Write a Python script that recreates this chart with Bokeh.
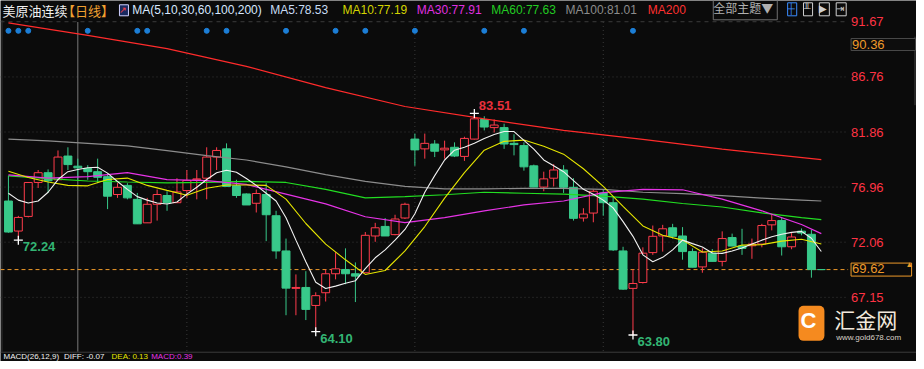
from bokeh.plotting import figure
from bokeh.models import Range1d, Label
from bokeh.embed import file_html
from bokeh.resources import INLINE

# ---------------- data ----------------
open_ = [75.72,73.05,74.35,77.37,78.24,77.61,79.72,78.82,78.61,78.33,
         77.89,76.30,77.11,75.87,73.78,75.43,76.21,75.57,76.65,77.61,
         77.75,79.63,80.36,77.08,76.35,75.52,76.30,74.41,71.28,67.95,
         68.03,66.43,67.56,69.25,69.63,69.25,69.34,72.61,73.46,72.73,
         74.21,81.23,80.36,80.79,80.27,80.50,79.69,81.23,82.97,82.25,
         82.25,80.85,80.65,78.85,76.96,77.75,78.48,76.94,74.21,74.65,
         76.44,75.57,71.28,67.95,68.47,71.13,72.61,73.34,72.61,71.22,
         69.86,71.08,70.35,72.47,71.71,71.74,71.89,73.60,73.98,71.65,
         73.04,72.76,69.62]
high = [77.98,74.40,77.40,78.48,78.53,80.22,80.50,79.49,78.91,79.49,
        78.18,77.31,77.31,76.44,76.00,76.74,76.59,77.75,78.48,78.48,
        80.50,80.50,80.85,77.61,76.40,76.74,77.31,74.85,72.38,69.19,
        69.48,67.60,69.63,71.17,71.51,70.26,72.96,73.78,74.21,74.50,
        75.57,81.72,81.72,81.14,81.09,80.94,81.44,83.51,83.26,82.97,
        82.60,81.66,80.94,78.96,78.33,79.00,78.91,77.75,75.08,76.74,
        76.74,76.15,71.65,69.63,71.60,73.54,73.60,73.69,73.40,71.51,
        71.51,71.45,73.02,72.82,73.25,72.38,73.69,74.56,74.26,72.87,
        73.28,73.17,69.62]
low = [72.90,72.24,74.26,76.88,76.44,77.61,78.48,77.61,77.61,77.31,
       75.00,76.00,75.87,73.69,73.78,73.98,74.85,75.57,76.00,75.87,
       75.87,78.48,77.02,76.00,75.37,74.70,72.15,70.58,65.56,65.56,
       65.13,64.10,66.78,68.75,68.32,66.73,69.34,72.09,72.61,72.67,
       74.12,78.85,79.49,79.63,79.49,79.63,79.29,81.20,82.00,81.81,
       80.36,79.78,78.42,76.96,76.59,77.02,76.44,73.98,73.89,73.83,
       74.41,71.28,67.82,63.80,68.38,70.93,71.22,72.38,70.50,69.83,
       69.34,70.35,69.91,71.71,70.93,70.58,71.60,73.11,70.87,71.43,
       72.67,68.90,69.62]
close = [72.96,74.26,77.37,78.24,77.52,79.63,78.96,78.67,78.33,77.83,
         76.15,76.94,76.00,73.69,75.43,76.30,75.57,76.53,77.55,77.69,
         79.63,80.22,77.02,76.21,75.37,76.39,74.50,71.28,67.97,68.03,
         66.08,67.30,69.25,69.69,69.25,69.04,72.67,73.34,72.61,74.12,
         75.43,80.27,80.85,80.15,80.42,79.72,81.29,83.03,82.30,82.48,
         80.79,80.74,78.76,76.96,77.69,78.48,76.94,74.18,74.56,76.59,
         75.57,71.37,67.88,68.38,71.08,72.58,73.25,72.58,71.22,69.83,
         71.17,70.35,72.38,71.71,71.51,71.89,73.54,73.98,71.65,72.52,
         72.87,69.62,69.62]

ma5 = [76.41,75.80,75.54,75.72,76.50,77.63,78.33,78.53,78.68,78.72,
       78.20,77.46,76.76,76.11,75.80,75.54,75.46,75.63,76.33,76.94,
       77.63,78.24,78.46,78.28,77.72,77.11,76.41,75.72,74.24,72.24,
       70.32,68.49,67.93,68.15,68.41,68.62,69.71,70.67,71.37,72.24,
       73.19,74.59,76.50,77.98,79.37,80.24,80.50,80.85,81.29,81.64,
       81.90,81.90,81.11,80.33,79.37,78.85,78.33,77.54,76.76,76.33,
       75.80,75.11,73.89,72.58,70.93,70.32,70.71,71.37,72.24,71.93,
       71.63,71.10,71.06,71.28,71.54,71.89,72.24,72.54,72.76,72.93,
       73.02,72.41,71.23]
ma10_idx = list(range(0, 83, 2))
ma10 = [78.37,77.81,77.41,77.11,77.07,77.63,77.76,77.11,76.67,76.24,
        76.85,77.15,77.15,77.11,75.89,73.72,71.89,70.49,69.19,69.54,
        71.28,73.45,75.98,78.24,80.24,81.03,81.14,80.59,79.89,78.59,
        77.02,75.24,73.50,72.67,72.24,71.19,71.28,71.80,71.84,72.15,
        72.32,71.89]
slow_idx = list(range(0, 81, 4)) + [82]
ma30 = [78.04,77.76,77.89,78.24,77.63,77.54,77.20,76.33,75.46,74.32,
        73.80,74.24,74.85,75.37,75.72,76.46,76.76,76.72,75.89,74.85,
        73.63,72.82]
ma60 = [77.95,77.72,77.50,77.41,77.33,77.37,77.46,77.37,76.76,76.00,
        76.11,76.28,76.50,76.41,76.33,76.15,75.89,75.50,75.19,74.67,
        74.24,74.06]
ma100 = [81.23,81.07,80.85,80.63,80.20,79.76,79.37,78.76,78.07,77.46,
         77.02,76.80,76.80,76.85,76.85,76.76,76.50,76.37,76.20,75.98,
         75.80,75.72]
ma200_idx = [0, 8, 16, 24, 32, 40, 48, 56, 64, 72, 82]
ma200 = [91.56,90.45,89.27,87.70,85.81,84.13,83.03,82.01,81.20,80.33,79.40]

axis_ticks = [91.67, 86.76, 81.86, 76.96, 72.06, 67.15]
event_idx = [0, 1, 2, 8, 13, 14, 20, 22, 28, 33, 36, 41, 48, 52, 63]
month_idx = [18, 41, 60]
cursor_idx = 7
low_marks = [1, 31, 63]
high_marks = [47]
title_vals = ["78.53", "77.19", "77.91", "77.63", "81.01"]
hover_price = "90.36"
macd_vals = ["-0.07", "0.13", "0.39"]

# ---------------- layout helpers (reference pixels -> data) -------------
W, H = 916, 361
REF_W, REF_H = 924, 369
CX0, CDX = 8.0, 10.0
P0, PY0, PPU = 91.67, 21.7, 11.49


def X(px):
    return (px - CX0) / CDX


def Y(py):
    return P0 - (py - PY0) / PPU


BG = "#0b0b0b"
UP = "#ff3c4c"
DOWN = "#38c98a"
MA_COL = ["#f2f2f2", "#e6e600", "#e633e6", "#22dd22", "#8c8c8c", "#ff2b2b"]
AX_RED = "#ff3344"
ORANGE = "#ee9a2a"
NUM_FONT = "Liberation Sans"
CJK_FONT = "Noto Sans CJK SC"

p = figure(width=W, height=H, x_range=Range1d(X(0), X(REF_W)),
           y_range=Range1d(Y(REF_H), Y(0)), output_backend="svg",
           toolbar_location=None, x_axis_type=None, y_axis_type=None,
           min_border=0, background_fill_color=BG, border_fill_color=BG,
           outline_line_color=None)
p.grid.visible = False

n = len(close)
idx = list(range(n))

# grid lines
p.segment(x0=[X(0)] * (len(axis_ticks) - 1), x1=[X(855)] * (len(axis_ticks) - 1),
          y0=axis_ticks[1:], y1=axis_ticks[1:], line_color="#3a3a3a",
          line_dash="1 3", line_width=1)
p.segment(x0=[X(0)], x1=[X(855)], y0=axis_ticks[:1], y1=axis_ticks[:1],
          line_color="#3c3c3c", line_dash="4 4", line_width=1)
p.segment(x0=month_idx, x1=month_idx, y0=[Y(22)] * len(month_idx),
          y1=[Y(359)] * len(month_idx), line_color="#3a3a3a",
          line_dash="1 3", line_width=1)
# crosshair vertical
p.segment(x0=[cursor_idx], x1=[cursor_idx], y0=[Y(22)], y1=[Y(359)],
          line_color="#7a7a7a", line_width=1)
# frame lines
p.segment(x0=[X(0)], x1=[X(REF_W)], y0=[Y(359.5)], y1=[Y(359.5)],
          line_color="#3c3c3c", line_width=1)
p.segment(x0=[X(1.5)], x1=[X(1.5)], y0=[Y(20)], y1=[Y(359)],
          line_color="#333333", line_width=1)
p.segment(x0=[X(922.5)], x1=[X(922.5)], y0=[Y(37)], y1=[Y(107)],
          line_color="#444444", line_width=1)

# last price dashed line
p.segment(x0=[X(0)], x1=[X(855)], y0=[close[-1]], y1=[close[-1]],
          line_color=ORANGE, line_dash="4 3", line_width=1)

# candles
cols = [UP if c > o else DOWN for o, c in zip(open_, close)]
fills = [BG if c > o else DOWN for o, c in zip(open_, close)]
p.segment(x0=idx, x1=idx, y0=low, y1=high, line_color=cols, line_width=1)
p.vbar(x=idx, width=0.8, top=[max(o, c) for o, c in zip(open_, close)],
       bottom=[min(o, c) for o, c in zip(open_, close)],
       fill_color=fills, line_color=cols, line_width=1)

# moving averages
p.line(slow_idx, ma100, line_color=MA_COL[4], line_width=1.2)
p.line(slow_idx, ma60, line_color=MA_COL[3], line_width=1.2)
p.line(slow_idx, ma30, line_color=MA_COL[2], line_width=1.2)
p.line(ma200_idx, ma200, line_color=MA_COL[5], line_width=1.2)
p.line(ma10_idx, ma10, line_color=MA_COL[1], line_width=1.1)
p.line(idx, ma5, line_color=MA_COL[0], line_width=1.1)

# event dots
p.scatter(x=event_idx, y=[Y(31)] * len(event_idx), size=5,
          marker="circle", fill_color="#1c7ed6", line_color="#1c7ed6")

# extreme markers
p.scatter(x=low_marks, y=[low[i] for i in low_marks], marker="cross",
          size=9, line_color="white", line_width=1.3)
p.scatter(x=high_marks, y=[high[i] for i in high_marks], marker="cross",
          size=9, line_color="white", line_width=1.3)
for i in low_marks:
    p.add_layout(Label(x=i + 0.45, y=low[i] - 0.6, text=f"{low[i]:.2f}",
                       text_color="#33b574", text_font_size="13px",
                       text_font=NUM_FONT, text_font_style="bold",
                       text_baseline="middle"))
for i in high_marks:
    p.add_layout(Label(x=i + 0.45, y=high[i] + 0.7, text=f"{high[i]:.2f}",
                       text_color="#e8303c", text_font_size="13px",
                       text_font=NUM_FONT, text_font_style="bold",
                       text_baseline="middle"))

# right price labels
for v in axis_ticks:
    p.add_layout(Label(x=X(858), y=v, text=f"{v:.2f}", text_color=AX_RED,
                       text_font_size="13px", text_font=NUM_FONT,
                       text_baseline="middle"))
p.add_layout(Label(x=X(858), y=Y(45), text=hover_price, text_color=ORANGE,
                   text_font_size="13px", text_font=NUM_FONT,
                   text_baseline="middle", background_fill_color="#0d0d0d",
                   border_line_color="#4a4a4a", padding=(1, 31, 1, 2)))
p.add_layout(Label(x=X(858), y=close[-1], text=f"{close[-1]:.2f}",
                   text_color=ORANGE, text_font_size="13px",
                   text_font=NUM_FONT, text_baseline="middle",
                   background_fill_color="#0b0b0b", border_line_color=ORANGE,
                   padding=(1, 27, 1, 3)))
p.add_layout(Label(x=X(913), y=Y(270), text="▲", text_color=ORANGE,
                   text_font_size="8px", text_baseline="middle"))

# title bar
title_parts = [
    (2, "美原油连续", "#f0f0f0", CJK_FONT, "13px"),
    (62, "【日线】", "#f0a030", CJK_FONT, "13px"),
    (133, "MA(5,10,30,60,100,200)", "#d8e8ff", NUM_FONT, "12px"),
    (272, "MA5:" + title_vals[0], "#c8dcf4", NUM_FONT, "12px"),
    (345, "MA10:" + title_vals[1], "#d4d400", NUM_FONT, "12px"),
    (420, "MA30:" + title_vals[2], "#e030e0", NUM_FONT, "12px"),
    (495, "MA60:" + title_vals[3], "#22cc22", NUM_FONT, "12px"),
    (570, "MA100:" + title_vals[4], "#8c8c8c", NUM_FONT, "12px"),
    (653, "MA200", "#ff3030", NUM_FONT, "12px"),
]
for px, txt, col, fnt, fs in title_parts:
    p.add_layout(Label(x=X(px), y=Y(10), text=txt, text_color=col,
                       text_font_size=fs, text_font=fnt,
                       text_baseline="middle"))
p.add_layout(Label(x=X(120), y=Y(10), text="↗", text_color="#ff4040",
                   text_font_size="9px", text_baseline="middle",
                   background_fill_color="#1a2a60", border_line_color="#d0d0ff",
                   padding=(0, 1, 0, 1)))
p.add_layout(Label(x=X(719), y=Y(9), text="全部主题▼", text_color="#b0b0b0",
                   text_font_size="12px", text_font=CJK_FONT,
                   text_baseline="middle", border_line_color="#707070",
                   padding=(0, 4, 0, 4)))
icons = [(794, "┼", "#3a8cff"), (810, "╨", "#d0d0d0"),
         (826, "▶", "#d0d0d0"), (843, "⇥", "#d0d0d0")]
for px, ch, col in icons:
    p.add_layout(Label(x=X(px), y=Y(9), text=ch, text_color=col,
                       text_font_size="10px", text_baseline="middle",
                       border_line_color=col, padding=(0, 2, 0, 2)))

# logo
p.add_layout(Label(x=X(805), y=Y(330), text="C", text_color="white",
                   text_font_size="22px", text_font=NUM_FONT,
                   text_font_style="bold", text_baseline="middle",
                   background_fill_color="#f58a1f", border_radius=5,
                   padding=(2, 8, 2, 8)))
p.add_layout(Label(x=X(841), y=Y(326), text="汇金网", text_color="#f2e8dc",
                   text_font_size="21px", text_font=CJK_FONT,
                   text_baseline="middle"))
p.add_layout(Label(x=X(843), y=Y(344), text="www.gold678.com",
                   text_color="#d8d0c8", text_font_size="8px",
                   text_font=NUM_FONT, text_baseline="middle"))

# MACD caption at the bottom edge
macd_parts = [(3, "MACD(26,12,9)", "#f0f0f0"),
              (64, "DIFF: " + macd_vals[0], "#f0f0f0"),
              (112, "DEA: " + macd_vals[1], "#e6e600"),
              (152, "MACD:" + macd_vals[2], "#e633e6")]
for px, txt, col in macd_parts:
    p.add_layout(Label(x=X(px), y=Y(363.5), text=txt, text_color=col,
                       text_font_size="8px", text_font=NUM_FONT,
                       text_baseline="middle"))

open("out.html", "w").write(file_html(p, INLINE))
